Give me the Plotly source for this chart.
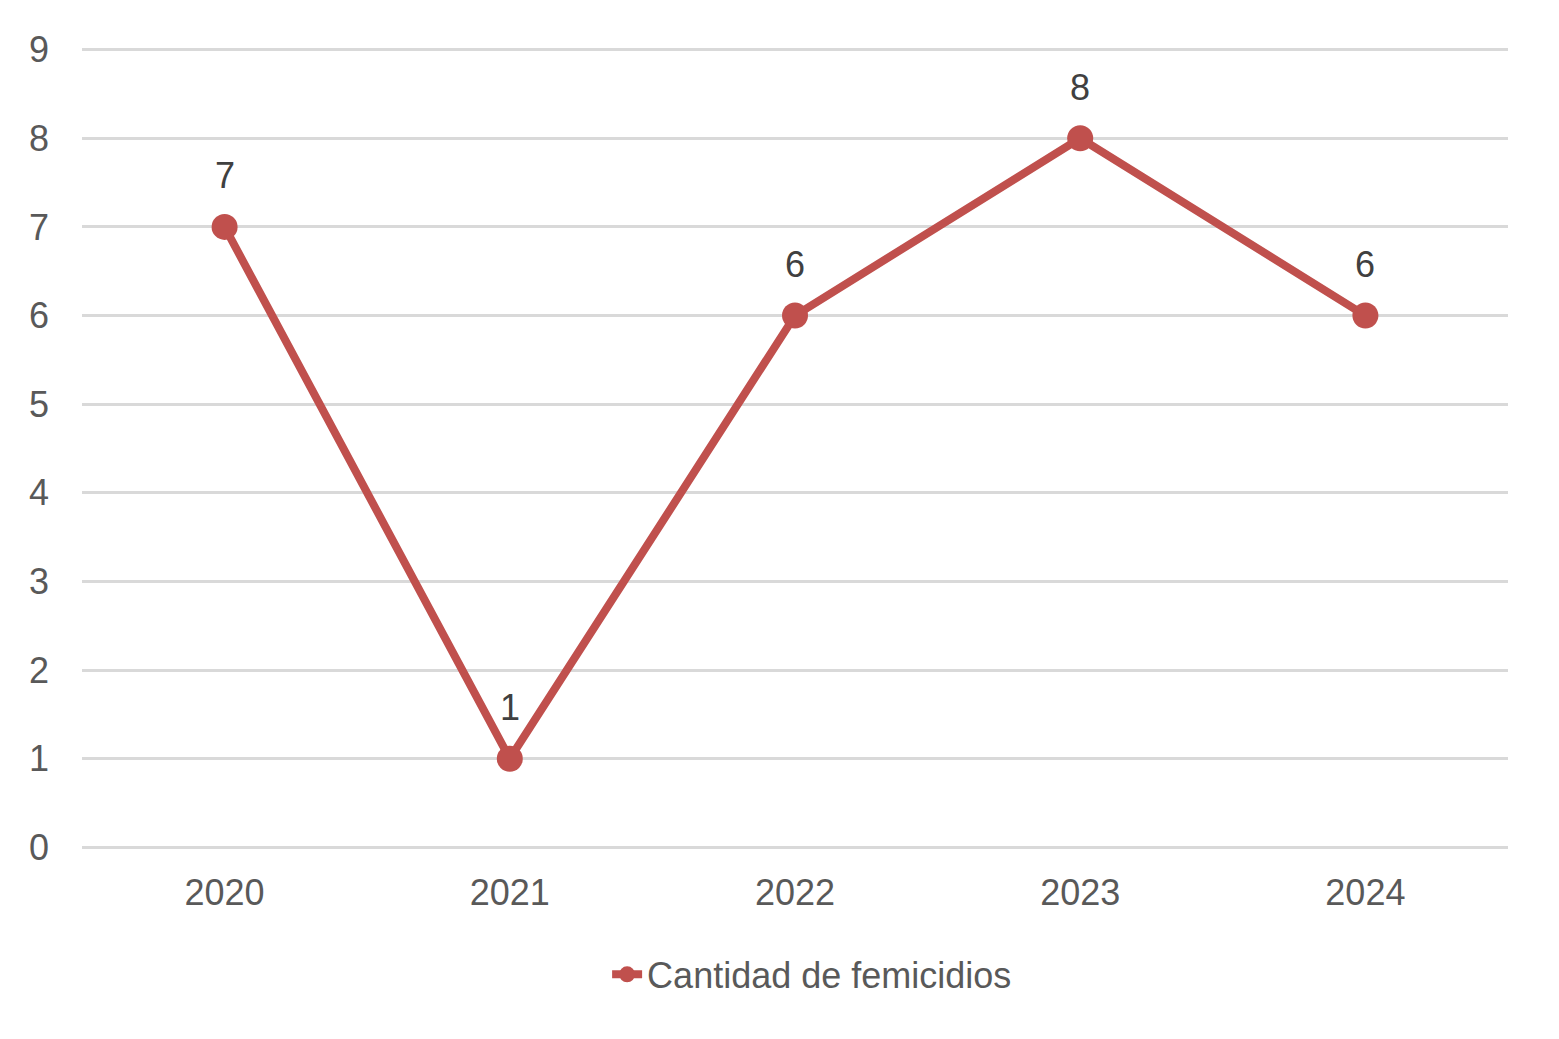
import plotly.graph_objects as go

years = ["2020", "2021", "2022", "2023", "2024"]
femicidios = [7, 1, 6, 8, 6]
series_name = "Cantidad de femicidios"

RED = "#C0504D"
FONT = "Liberation Sans, Arial, sans-serif"

fig = go.Figure()
fig.add_trace(go.Scatter(
    x=years, y=femicidios, mode="lines+markers", name=series_name,
    line=dict(color=RED, width=8),
    marker=dict(color=RED, size=26),
    showlegend=True, cliponaxis=False,
))

for i, y in enumerate(femicidios):
    fig.add_annotation(x=i, y=y, xref="x", yref="y", text=str(y), showarrow=False,
                       yshift=51, xanchor="center", yanchor="middle",
                       font=dict(size=36, color="#404040", family=FONT))

fig.update_layout(
    width=1551, height=1031,
    paper_bgcolor="white", plot_bgcolor="white",
    margin=dict(l=74, r=51, t=39, b=189),
    font=dict(family=FONT, size=36, color="#595959"),
    xaxis=dict(type="category", range=[-0.5, 4.5], showgrid=False, zeroline=False,
               showline=False, ticks="", ticklabelstandoff=18,
               tickfont=dict(size=36, color="#595959")),
    yaxis=dict(range=[-0.03, 9.03], tickvals=list(range(10)), showgrid=True,
               gridcolor="#D9D9D9", gridwidth=3,
               zeroline=False, showline=False, ticks="", ticklabelstandoff=32,
               tickfont=dict(size=36, color="#595959")),
    legend=dict(orientation="h", x=0.512, xanchor="center", y=-0.155, yanchor="middle",
                font=dict(size=36, color="#595959"), bgcolor="rgba(0,0,0,0)"),
)

fig.write_html("out.html")
